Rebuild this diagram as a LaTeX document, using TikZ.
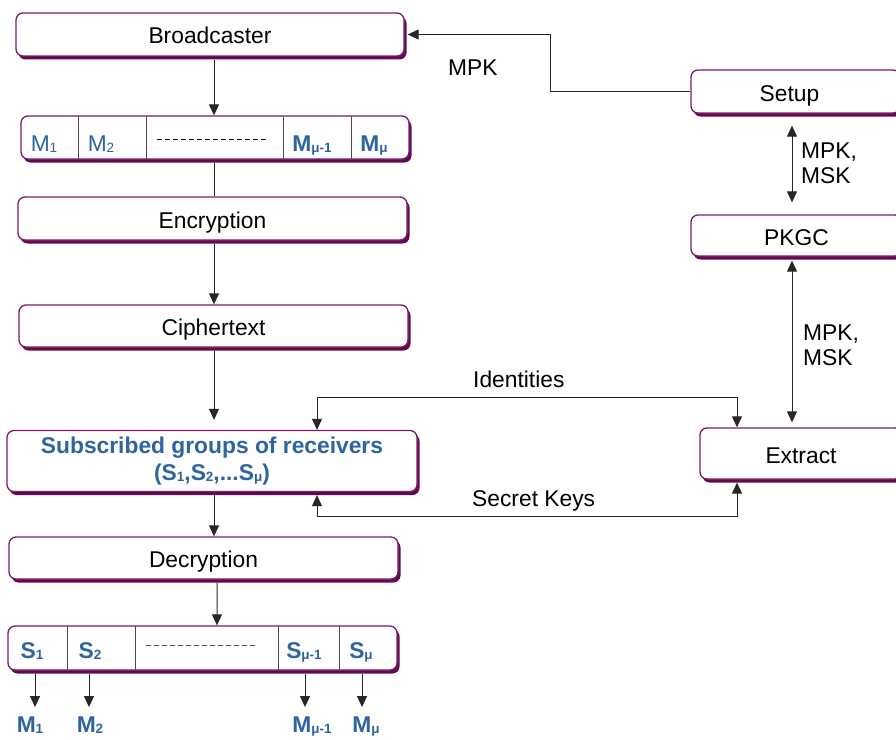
\documentclass[tikz,border=0pt]{standalone}
\usepackage{fontspec}
\setmainfont{Liberation Sans}
\usetikzlibrary{arrows.meta,shadows,calc}
\definecolor{boxedge}{RGB}{122,28,104}
\definecolor{boxshade}{RGB}{98,10,78}
\definecolor{msgblue}{RGB}{46,100,160}
\colorlet{wire}{black!85}
\newcommand{\diagfont}{\fontsize{22.8bp}{25bp}\selectfont}
\newcommand{\msub}[1]{\raisebox{-1.2bp}{\fontsize{13.5bp}{14bp}\selectfont #1}}
\tikzset{
    stage/.style={draw=boxedge,line width=1.3bp,rounded corners=7bp,fill=white,inner sep=0pt,
        general shadow={fill=boxshade,shadow xshift=2.5bp,shadow yshift=-3.5bp}},
    oneline/.style={text height=23bp,text depth=4bp},
    slot/.style={draw=black!70,line width=1bp},
    gap/.style={dash pattern=on 5bp off 3bp,line width=1bp},
    blocklabel/.style={text=msgblue,inner sep=0pt,anchor=base},
    boldlabel/.style={blocklabel,font=\diagfont\bfseries},
    flow/.style={-{Triangle[length=11bp,width=10bp]},line width=1bp,wire},
    twoway/.style={{Triangle[length=11bp,width=10bp]}-{Triangle[length=11bp,width=10bp]},line width=1bp,wire},
    plain/.style={inner sep=0pt},
}

\begin{document}
\begin{tikzpicture}[x=1bp,y=-1bp,font=\diagfont]
  \useasboundingbox (0,0) rectangle (896,740);
  \clip (0,0) rectangle (896,740);
  \coordinate (spine) at (214,0);
  \coordinate (mpkturn) at (550,0);
  \coordinate (keyx) at (792,0);
  \coordinate (idl) at (317,0);
  \coordinate (idr) at (737,0);

  \node[stage,oneline,minimum width=388bp,minimum height=43bp] (bcast) at (210,34.5) {Broadcaster};
  \node[stage,minimum width=388bp,minimum height=43bp] (msgs) at (215,137.5) {};
  \node[stage,oneline,minimum width=389bp,minimum height=43bp] (encr) at (212.5,218.5) {Encryption};
  \node[stage,oneline,minimum width=389bp,minimum height=42bp] (ciph) at (213.5,326) {Ciphertext};
  \node[stage,minimum width=410bp,minimum height=61bp,align=center,text=msgblue,
        font=\fontsize{22.8bp}{27bp}\selectfont\bfseries] (subs) at (212,461)
        {Subscribed groups of receivers\\(S\msub{1},S\msub{2},...S\msub{μ})};
  \node[stage,oneline,minimum width=389bp,minimum height=42bp] (decr) at (203.5,558) {Decryption};
  \node[stage,minimum width=389bp,minimum height=44bp] (sigs) at (202.5,648) {};

  \node[stage,oneline,minimum width=209bp,minimum height=43bp] (setup) at (795.5,91.5) {\hspace*{-12bp}Setup};
  \node[stage,oneline,minimum width=211bp,minimum height=41bp] (pkgc) at (796.5,235.5) {PKGC};
  \node[stage,oneline,minimum width=202bp,minimum height=51bp] (extract) at (801,453.5) {Extract};

  \foreach \x in {78,146,283,351}
    \draw[slot] (\x,0 |- msgs.north) ++(0,1) -- (\x,0 |- msgs.south);
  \node[blocklabel] (m1) at (44,151.5) {M\msub{1}};
  \node[blocklabel] (m2) at (101,151.5) {M\msub{2}};
  \node[boldlabel] (mk) at (312,151.5) {M\msub{μ-1}};
  \node[boldlabel] (mu) at (374,151.5) {M\msub{μ}};
  \draw[gap] (157,139) -- (269,139);

  \foreach \x in {67,135,278,339}
    \draw[slot] (\x,0 |- sigs.north) ++(0,1) -- (\x,0 |- sigs.south);
  \node[boldlabel] (s1) at (32,658) {S\msub{1}};
  \node[boldlabel] (s2) at (90,658) {S\msub{2}};
  \node[boldlabel] (sk) at (304,658) {S\msub{μ-1}};
  \node[boldlabel] (su) at (361,658) {S\msub{μ}};
  \draw[gap,black!70] (146,645) -- (258,645);

  \node[boldlabel] (out1) at (30,732) {M\msub{1}};
  \node[boldlabel] (out2) at (90,732) {M\msub{2}};
  \node[boldlabel] (out3) at (312,732) {M\msub{μ-1}};
  \node[boldlabel] (out4) at (366,732) {M\msub{μ}};
  \foreach \x in {35,89,305,362}
    \draw[flow] (\x,0 |- sigs.south) ++(0,3) -- (\x,707);

  \draw[flow] (bcast.south -| spine) ++(0,3) -- (msgs.north -| spine);
  \draw[line width=1bp,wire] (msgs.south -| spine) ++(0,3) -- (encr.north -| spine);
  \draw[flow] (encr.south -| spine) ++(0,3) -- (ciph.north -| spine);
  \draw[flow,shorten >=10bp] (ciph.south -| spine) ++(0,3) -- (subs.north -| spine);
  \draw[flow] (subs.south -| spine) ++(0,3) -- (decr.north -| spine);
  \draw[flow] ($(decr.south)+(13.5,3)$) -- (217,0 |- sigs.north);

  \draw[flow] (setup.west) -- (setup.west -| mpkturn) |- ($(bcast.east)+(3,0)$);
  \node[plain,anchor=base west] (mpk) at (448,76) {MPK};

  \draw[twoway,shorten <=12bp,shorten >=12bp] (setup.south -| keyx) -- (pkgc.north -| keyx);
  \node[plain,anchor=north west,align=left] (keys1) at (801,143) {MPK,\\MSK};
  \draw[twoway,shorten <=4bp,shorten >=5bp] (pkgc.south -| keyx) -- (extract.north -| keyx);
  \node[plain,anchor=north west,align=left] (keys2) at (803,325) {MPK,\\MSK};

  \draw[twoway] (subs.north -| idl) -- ++(0,-32) -| (extract.north -| idr);
  \node[plain,anchor=base west] (ident) at (473,387) {Identities};
  \draw[twoway] ($(subs.south -| idl)+(0,3)$) -- ++(0,21) -| ($(extract.south -| idr)+(0,3)$);
  \node[plain,anchor=base west] (secret) at (472,506) {Secret Keys};
\end{tikzpicture}
\end{document}
